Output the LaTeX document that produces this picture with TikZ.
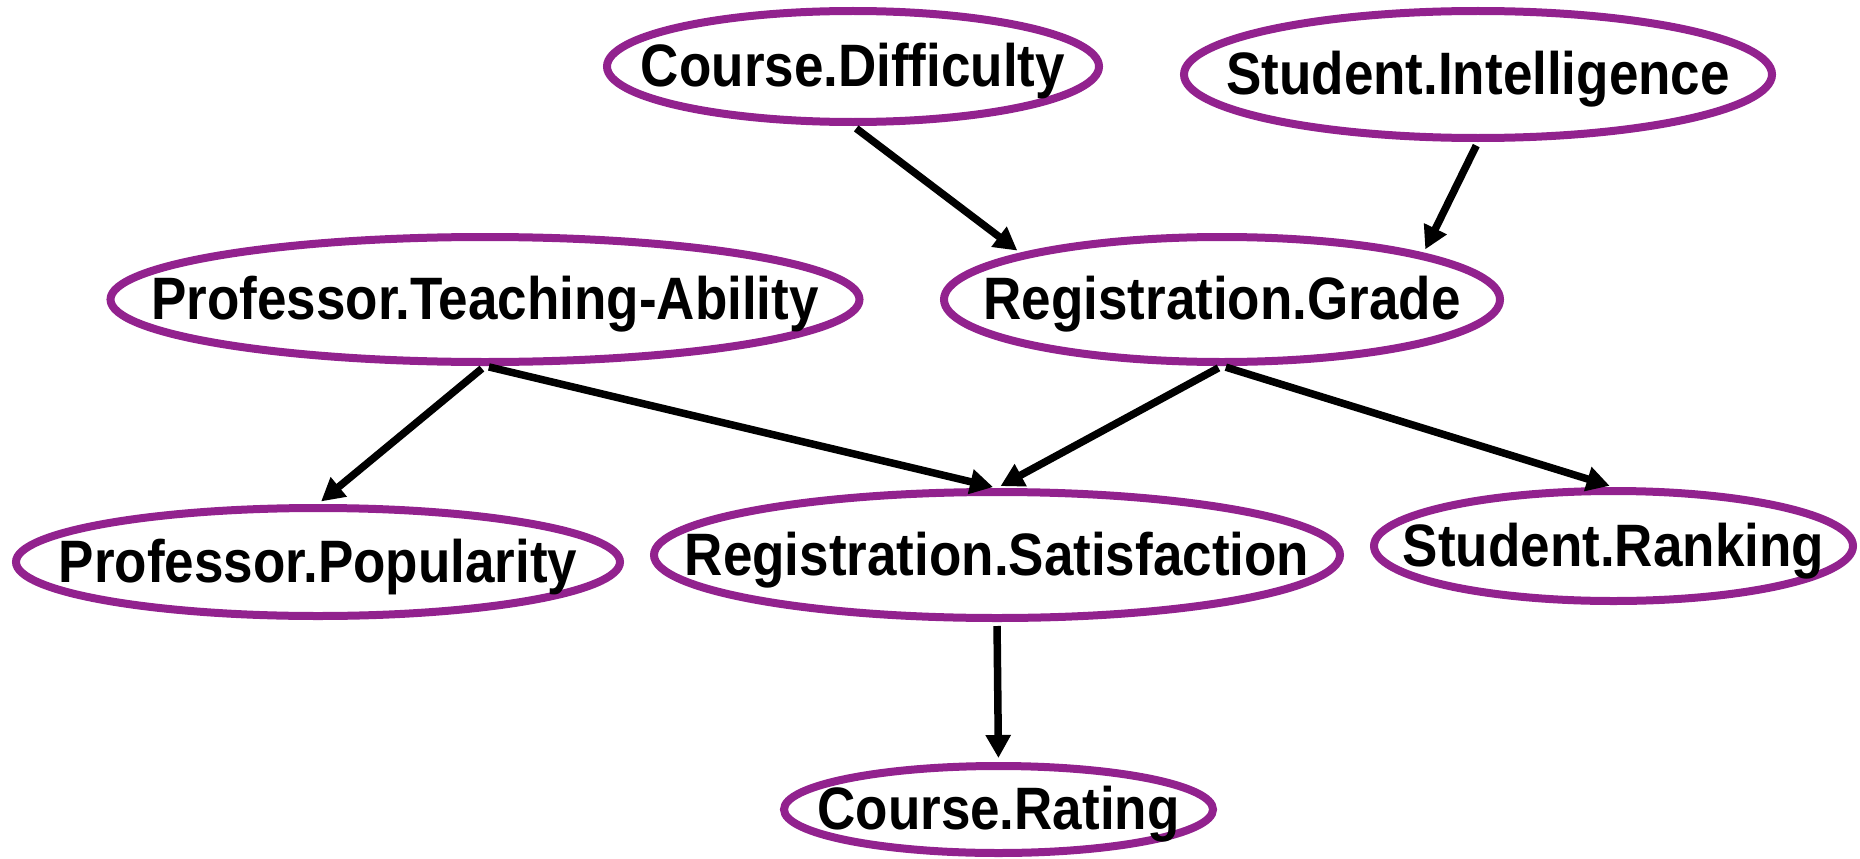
\documentclass[tikz,border=0pt]{standalone}
\usepackage{fontspec}
\usepackage{graphicx}
\setmainfont{Liberation Sans}
\usetikzlibrary{shapes.geometric,arrows.meta}
\definecolor{nodepurple}{RGB}{146,34,142}
\newcommand\tallword[1]{\scalebox{1}[1.13]{#1}}
\tikzset{
  var/.style args={#1/#2}{ellipse, draw=nodepurple, line width=8pt,
    minimum width=#1pt, minimum height=#2pt, inner sep=0pt},
  word/.style={anchor=base, yshift=-20pt, inner sep=0pt,
    font=\fontsize{53}{60}\selectfont\bfseries},
  dep/.style={line width=7.5pt, shorten <=4pt, shorten >=4pt,
    -{Triangle[length=23pt,width=24pt]}}
}
\begin{document}
\begin{tikzpicture}[x=1pt,y=-1pt]
  \useasboundingbox (0,0) rectangle (1860,859);
  % variables of the network
  \node[var=492/111] (cd) at (853,66.5)   {};
  \node[var=588/127] (si) at (1478,74.5)  {};
  \node[var=749/125] (ta) at (485,299.5)  {};
  \node[var=556/125] (rg) at (1222,299.5) {};
  \node[var=604/108] (pp) at (318,562)    {};
  \node[var=686/126] (rs) at (997,555)    {};
  \node[var=479/110] (sr) at (1613.5,546) {};
  \node[var=429/87]  (cr) at (998.5,809.5) {};
  % their names
  \node[word] (cdt) at (cd.center) {\tallword{Course.Difficulty}};
  \node[word] (sit) at (si.center) {\tallword{Student.Intelligence}};
  \node[word] (tat) at (ta.center) {\tallword{Professor.Teaching-Ability}};
  \node[word] (rgt) at (rg.center) {\tallword{Registration.Grade}};
  \node[word] (ppt) at (pp.center) {\tallword{Professor.Popularity}};
  \node[word] (rst) at (rs.center) {\tallword{Registration.Satisfaction}};
  \node[word] (srt) at (sr.center) {\tallword{Student.Ranking}};
  \node[word] (crt) at (cr.center) {\tallword{Course.Rating}};
  % dependencies
  \draw[dep] (cd.south) -- (rg.167);
  \draw[dep] (si.south) -- (rg.13);
  \draw[dep] (ta.south) -- (pp.north);
  \draw[dep] (ta.south) -- (rs.north);
  \draw[dep] (rg.south) -- (rs.north);
  \draw[dep] (rg.south) -- (sr.north);
  \draw[dep] (rs.south) -- (cr.north);
\end{tikzpicture}
\end{document}
